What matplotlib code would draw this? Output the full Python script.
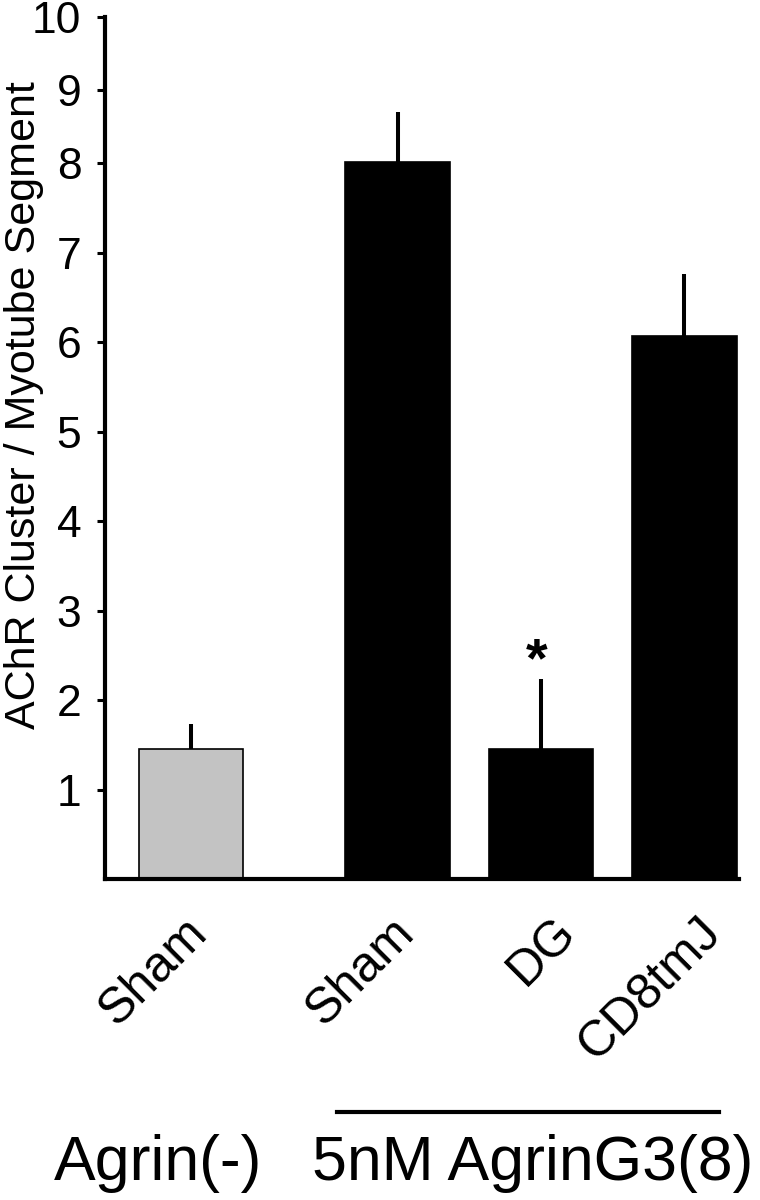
import numpy as np
import matplotlib
matplotlib.use('Agg')
import matplotlib.pyplot as plt
from matplotlib.transforms import ScaledTranslation
from matplotlib.lines import Line2D

plt.rcParams['font.family'] = ['Liberation Sans', 'DejaVu Sans']

# data
labels = ['Sham', 'Sham', 'DG', 'CD8tmJ']
values = [1.45, 8.02, 1.45, 6.07]
errors = [0.28, 0.68, 0.78, 0.69]
xpos = [0, 1.44, 2.44, 3.44]
colours = ['#c3c3c3', 'black', 'black', 'black']
yticks = [1, 2, 3, 4, 5, 6, 7, 8, 9, 10]
group_labels = ['Agrin(-)', '5nM AgrinG3(8)']

# the original axis is squeezed above 8
K = 0.816
def fwd(y):
    y = np.asarray(y, dtype=float)
    return np.where(y <= 8, y, 8 + (y - 8) * K)

def inv(y):
    y = np.asarray(y, dtype=float)
    return np.where(y <= 8, y, 8 + (y - 8) / K)

fig = plt.figure(figsize=(7.6, 12), dpi=100)
ax = fig.add_axes([0.1382, 0.2675, 0.834, 0.7183])
ax.set_yscale('function', functions=(fwd, inv))

ax.bar(xpos, values, width=0.73, color=colours, edgecolor='black', linewidth=1.2,
       yerr=[[0] * len(errors), errors],
       error_kw=dict(elinewidth=2.9, capsize=0, ecolor='black'), zorder=2)

ax.set_xlim(-0.6, 3.82)
ax.set_ylim(0, 10)

ax.spines['top'].set_visible(False)
ax.spines['right'].set_visible(False)
ax.spines['left'].set_linewidth(3)
ax.spines['bottom'].set_linewidth(3)

ax.set_yticks(yticks)
ax.set_yticklabels([str(t) for t in yticks], fontsize=32)
ax.yaxis.set_minor_locator(plt.NullLocator())
ax.tick_params(axis='y', direction='out', length=6, width=2.2, pad=11)

ax.set_xticks(xpos)
ax.set_xticklabels(labels, fontsize=36, rotation=45, ha='right', va='top',
                   rotation_mode='anchor')
ax.tick_params(axis='x', length=0, pad=0)
# the last two labels sit a little further right in the original
shifts = [-0.07, -0.07, 0.11, 0.13]
for lab, dx in zip(ax.get_xticklabels(), shifts):
    lab.set_transform(lab.get_transform() +
                      ScaledTranslation(dx, -0.3, fig.dpi_scale_trans))

ax.set_ylabel('AChR Cluster / Myotube Segment', fontsize=31)
ax.yaxis.set_label_coords(-0.097, 0.55)

# significance mark
ax.text(xpos[2] - 0.03, 2.27, '*', fontsize=40, fontweight='bold',
        ha='center', va='baseline')

# group bar and labels under the axis
trans = ax.get_xaxis_transform()
ax.add_line(Line2D([1.02, 3.68], [-0.27, -0.27], transform=trans,
                   color='black', linewidth=3, clip_on=False))
ax.text(-0.23, -0.349, group_labels[0], transform=trans, fontsize=45,
        ha='center', va='baseline')
ax.text(2.38, -0.349, group_labels[1], transform=trans, fontsize=45,
        ha='center', va='baseline')

fig.savefig('out.png', dpi=100)
